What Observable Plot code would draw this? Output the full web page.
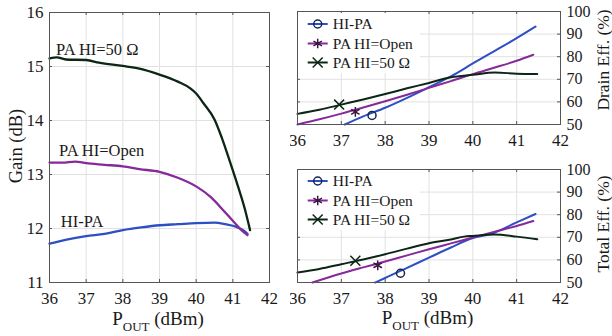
<!DOCTYPE html>
<html><head><meta charset="utf-8">
<script src="https://cdn.jsdelivr.net/npm/d3@7"></script>
<script src="https://cdn.jsdelivr.net/npm/@observablehq/plot@0.6"></script>
<style>
body{margin:0;background:#fff;}
#wrap{position:relative;width:612px;height:336px;overflow:hidden;font-family:"Liberation Serif","Times New Roman",serif;color:#1a1a1a;background:#fff;}
#wrap svg, #wrap svg text{font-family:"Liberation Serif","Times New Roman",serif !important;font-variant:normal !important;}
.panel{position:absolute;}
.t{position:absolute;white-space:nowrap;}
</style></head><body><div id="wrap"></div>
<script>
// ---- ticks & series ----
const xTicks = [36, 37, 38, 39, 40, 41, 42];
const gainTicks = [11, 12, 13, 14, 15, 16];
const effTicks = [50, 60, 70, 80, 90, 100];
const seriesNames = ["HI-PA", "PA HI=Open", "PA HI=50 Ω"];
const seriesColors = ["#2d4fc4", "#86299a", "#0c2616"];
const markerColors = ["#1a2450", "#3a1540", "#0c2616"];
const markerSymbols = ["circle", "asterisk", "times"];
const FONT = '"Liberation Serif", "Times New Roman", serif';

// ---- Gain (dB) ----
const gainHiX = [36, 36.5, 37, 37.5, 38, 38.5, 39, 39.5, 40, 40.5, 40.8, 41.1, 41.3, 41.4];
const gainHiY = [11.72, 11.8, 11.86, 11.9, 11.97, 12.02, 12.06, 12.08, 12.1, 12.11, 12.08, 12.03, 11.96, 11.9];
const gainOpenX = [36, 36.35, 36.7, 37, 37.5, 38, 38.45, 39, 39.5, 40, 40.4, 40.75, 41.03, 41.25, 41.4];
const gainOpenY = [13.22, 13.22, 13.24, 13.21, 13.18, 13.15, 13.1, 13.05, 12.94, 12.78, 12.58, 12.33, 12.12, 11.96, 11.88];
const gain50X = [36, 36.2, 36.45, 37, 37.35, 38, 38.45, 39, 39.5, 39.85, 40, 40.2, 40.5, 40.7, 40.93, 41.15, 41.34, 41.47];
const gain50Y = [15.15, 15.17, 15.13, 15.12, 15.07, 15.01, 14.96, 14.85, 14.72, 14.59, 14.5, 14.32, 14.02, 13.68, 13.22, 12.76, 12.33, 11.97];
// in-plot series labels (HI-PA, Open, 50 Ω)
const gainLabelX = [36.31, 36.26, 36.18];
const gainLabelY = [12.12, 13.44, 15.31];

// ---- Drain Eff. (%) ----
const drainHiX = [37.08, 37.5, 38, 38.5, 39, 39.5, 40, 40.5, 41, 41.43];
const drainHiY = [50, 53.6, 57.4, 61.8, 66.5, 71.3, 77, 82.6, 88.2, 93.3];
const drainOpenX = [36, 36.5, 37, 37.5, 38, 38.5, 39, 39.5, 40, 40.5, 41, 41.38];
const drainOpenY = [50, 52.3, 54.8, 57.5, 60.3, 63.2, 66.2, 69.2, 72.3, 75.2, 78.2, 80.9];
const drain50X = [36, 36.5, 37, 37.5, 38, 38.5, 39, 39.5, 40, 40.5, 41, 41.47];
const drain50Y = [54.7, 56.5, 58.8, 61.1, 63.5, 66, 68.4, 70.9, 72, 73, 72.5, 72.3];
const drainMarkX = [37.7, 37.32, 36.95];
const drainMarkY = [54, 55.6, 58.8];

// ---- Total Eff. (%) ----
const totalHiX = [37.77, 38, 38.5, 39, 39.5, 40, 40.4, 41, 41.43];
const totalHiY = [50, 52, 56.5, 61, 65.5, 69.7, 71.4, 76.6, 80.3];
const totalOpenX = [36.34, 37, 37.5, 38, 38.5, 39, 39.5, 40, 40.5, 41, 41.38];
const totalOpenY = [50, 54, 56.7, 59.3, 62, 64.7, 67.3, 69.9, 72.5, 75, 77.2];
const total50X = [36, 36.5, 37, 37.5, 38, 38.5, 39, 39.5, 39.8, 40, 40.5, 41, 41.47];
const total50Y = [54.4, 56, 58.1, 60.2, 62.5, 65, 67.4, 69, 70.3, 70.6, 71.2, 70.3, 69.1];
const totalMarkX = [38.35, 37.83, 37.32];
const totalMarkY = [54.1, 57.6, 59.6];

// ---- helpers ----
const rows = (xs, ys, s) => xs.map((x, i) => ({x, y: ys[i], s}));
const wrap = document.getElementById("wrap");

function panel(o) {
  const fw = o.width - o.mL - o.mR, fh = o.height - o.mT - o.mB;
  const tc = "#555";
  const lineRows = o.series.flatMap(([xs, ys], i) => rows(xs, ys, seriesNames[i]));
  const marks = [
    Plot.gridX(xTicks, {stroke: "#e1e1e1", strokeOpacity: 1}),
    Plot.gridY(o.yTicks, {stroke: "#e1e1e1", strokeOpacity: 1}),
    Plot.ruleX(xTicks, {x: d => d, insetTop: fh - 3, stroke: tc}),
    Plot.ruleX(xTicks, {x: d => d, insetBottom: fh - 3, stroke: tc}),
    Plot.ruleY(o.yTicks, {y: d => d, insetRight: fw - 3, stroke: tc}),
    Plot.ruleY(o.yTicks, {y: d => d, insetLeft: fw - 3, stroke: tc}),
    Plot.line(lineRows, {x: "x", y: "y", z: "s", stroke: "s", strokeWidth: o.sw, curve: "monotone-x"})
  ];
  if (o.markX) {
    o.markX.forEach((mx, i) => {
      marks.push(Plot.dot([{x: mx, y: o.markY[i]}], {x: "x", y: "y", symbol: markerSymbols[i], r: i === 0 ? 4 : 4.6, stroke: markerColors[i], fill: "none", strokeWidth: 1.5}));
    });
  }
  if (o.labels) {
    marks.push(Plot.text(o.labels, {x: "x", y: "y", text: "s", textAnchor: "start", fontSize: 16.5, fontFamily: FONT, fill: "#1a1a1a"}));
  }
  marks.push(Plot.frame({stroke: "#555"}));
  marks.push(Plot.axisX(xTicks, {tickSize: 0, tickPadding: 9, label: null, fontSize: 17, fontFamily: FONT, tickFormat: d => String(d), fill: "#1a1a1a"}));
  marks.push(Plot.axisY(o.yTicks, {anchor: o.yAnchor, tickSize: 0, tickPadding: 6, label: null, fontSize: o.yFont, fontFamily: FONT, tickFormat: d => String(d), fill: "#1a1a1a"}));
  const chart = Plot.plot({
    width: o.width, height: o.height,
    marginLeft: o.mL, marginRight: o.mR, marginTop: o.mT, marginBottom: o.mB,
    style: {fontFamily: FONT, fontSize: "17px", color: "#1a1a1a", background: "transparent"},
    x: {domain: [36, 42]},
    y: {domain: o.yDomain},
    color: {domain: seriesNames, range: seriesColors},
    marks
  });
  const d = document.createElement("div");
  d.className = "panel";
  d.style.left = o.left + "px";
  d.style.top = o.top + "px";
  d.appendChild(chart);
  wrap.appendChild(d);
}

function addText(html, cx, cy, size, rot) {
  const d = document.createElement("div");
  d.className = "t";
  d.innerHTML = html;
  d.style.fontSize = size + "px";
  d.style.lineHeight = Math.round(size * 1.15) + "px";
  d.style.left = cx + "px";
  d.style.top = cy + "px";
  d.style.transform = "translate(-50%,-50%)" + (rot ? " rotate(-90deg)" : "");
  wrap.appendChild(d);
}

function legend(left, top) {
  const w = 122, h = 60;
  const svg = d3.create("svg").attr("width", w).attr("height", h)
    .style("position", "absolute").style("left", left + "px").style("top", top + "px")
    .style("background", "#fff");
  const rowY = [11, 30.5, 49.5];
  seriesNames.forEach((name, i) => {
    const g = svg.append("g").attr("transform", `translate(0,${rowY[i]})`);
    g.append("line").attr("x1", 9.7).attr("x2", 29.7).attr("stroke", seriesColors[i]).attr("stroke-width", 2);
    const sym = {circle: d3.symbolCircle, asterisk: d3.symbolAsterisk, times: d3.symbolTimes}[markerSymbols[i]];
    const r = i === 0 ? 4 : 4.6;
    g.append("path").attr("transform", "translate(19.7,0)")
      .attr("d", d3.symbol(sym, Math.PI * r * r)())
      .attr("fill", "none").attr("stroke", markerColors[i]).attr("stroke-width", 1.5);
    g.append("text").attr("x", 34.7).attr("dy", "0.35em")
      .attr("font-family", FONT)
      .attr("font-size", 15.5).attr("fill", "#1a1a1a").text(name);
  });
  wrap.appendChild(svg.node());
}

// ---- Left: Gain ----
panel({
  left: 0, top: 0, width: 290, height: 336, mL: 49, mR: 21, mT: 12, mB: 54,
  yDomain: [11, 16], yTicks: gainTicks, yAnchor: "left", yFont: 17, sw: 2.3,
  series: [[gainHiX, gainHiY], [gainOpenX, gainOpenY], [gain50X, gain50Y]],
  labels: rows(gainLabelX, gainLabelY, null).map((r, i) => ({...r, s: seriesNames[i]}))
});
// ---- Top right: Drain Eff ----
panel({
  left: 290, top: 0, width: 322, height: 160, mL: 7, mR: 52, mT: 11, mB: 36,
  yDomain: [50, 100], yTicks: effTicks, yAnchor: "right", yFont: 16, sw: 2,
  series: [[drainHiX, drainHiY], [drainOpenX, drainOpenY], [drain50X, drain50Y]],
  markX: drainMarkX, markY: drainMarkY
});
// ---- Bottom right: Total Eff ----
panel({
  left: 290, top: 160, width: 322, height: 176, mL: 7, mR: 52, mT: 9, mB: 54,
  yDomain: [50, 100], yTicks: effTicks, yAnchor: "right", yFont: 16, sw: 2,
  series: [[totalHiX, totalHiY], [totalOpenX, totalOpenY], [total50X, total50Y]],
  markX: totalMarkX, markY: totalMarkY
});

legend(298, 12.5);
legend(298, 170);

const poutHTML = 'P<span style="font-size:13px;position:relative;top:6px">OUT</span> (dBm)';
addText(poutHTML, 158, 319.5, 19, false);
addText(poutHTML, 427.5, 318.5, 19, false);
addText("Gain (dB)", 16, 146, 18.5, true);
addText("Drain Eff. (%)", 603, 60, 17.5, true);
addText("Total Eff. (%)", 603, 224, 17.5, true);
</script></body></html>
